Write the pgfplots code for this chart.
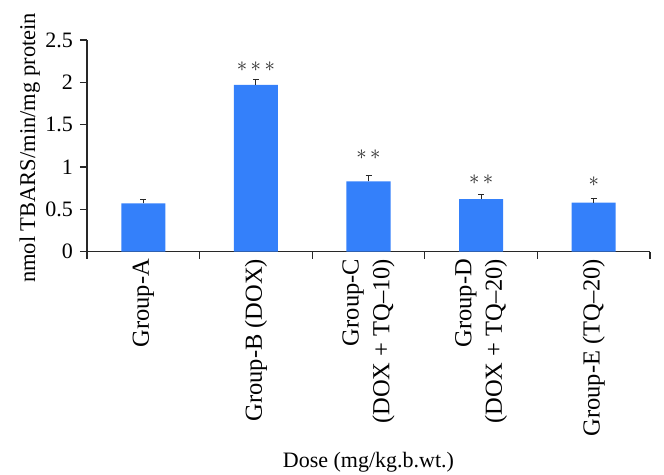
\documentclass[border=0pt]{standalone}
\usepackage{fontspec}
\setmainfont{Liberation Serif}
\usepackage{pgfplots}
\pgfplotsset{compat=1.18}
\definecolor{barblue}{RGB}{52,128,250}
\definecolor{axisgray}{RGB}{40,40,40}
\begin{document}
\begin{tikzpicture}
\useasboundingbox (-87pt,-222.3pt) rectangle (577pt,251.7pt);
\begin{axis}[
  at={(0pt,0pt)}, anchor=south west,
  width=563pt, height=211.7pt, scale only axis,
  xmin=-0.5, xmax=4.5, ymin=0, ymax=2.5,
  axis x line*=bottom, axis y line*=left,
  axis line style={axisgray, line width=1.1pt},
  xtick={0,1,2,3,4},
  xticklabels={Group-A, Group-B (DOX), {Group-C\\(DOX + TQ–10)}, {Group-D\\(DOX + TQ–20)}, Group-E (TQ–20)},
  minor xtick={-0.5,0.5,1.5,2.5,3.5,4.5},
  major x tick style={draw=none},
  minor tick length=7pt,
  major tick length=7pt,
  tick align=outside,
  tick style={axisgray, line width=1.1pt},
  ytick={0,0.5,1,1.5,2,2.5},
  yticklabels={0,0.5,1,1.5,2,2.5},
  /pgf/number format/assume math mode=true,
  yticklabel style={font=\fontsize{22}{26}\selectfont, inner sep=0pt, anchor=east, xshift=-7pt},
  xticklabel style={font=\fontsize{24.5}{30.7}\selectfont, rotate=90, anchor=east, align=right, inner sep=0pt},
  xlabel={Dose (mg/kg.b.wt.)},
  xlabel style={font=\fontsize{22}{28}\selectfont, at={(rel axis cs:0.5,0)}, anchor=base, yshift=-216pt, inner sep=0pt},
  ylabel={nmol TBARS/min/mg protein},
  ylabel style={font=\fontsize{22.5}{28}\selectfont, at={(rel axis cs:-0.092,1.129)}, anchor=base east, inner sep=0pt},
  clip=false,
]
\addplot[ybar, bar width=44pt, fill=barblue, draw=none,
  error bars/.cd, y dir=plus, y explicit,
  error bar style={line width=1.1pt, axisgray},
  error mark options={rotate=90, mark size=3pt, line width=1.1pt, axisgray}]
  coordinates {
    (0,0.57) +- (0,0.045)
    (1,1.97) +- (0,0.06)
    (2,0.83) +- (0,0.07)
    (3,0.62) +- (0,0.055)
    (4,0.58) +- (0,0.05)
  };
\node[font=\fontsize{21}{24}\selectfont, text=axisgray, inner sep=0pt] at (axis cs:1,2.19) {$\mathord{\ast}\,\mathord{\ast}\,\mathord{\ast}$};
\node[font=\fontsize{21}{24}\selectfont, text=axisgray, inner sep=0pt] at (axis cs:2,1.142) {$\mathord{\ast}\,\mathord{\ast}$};
\node[font=\fontsize{21}{24}\selectfont, text=axisgray, inner sep=0pt] at (axis cs:3,0.847) {$\mathord{\ast}\,\mathord{\ast}$};
\node[font=\fontsize{21}{24}\selectfont, text=axisgray, inner sep=0pt] at (axis cs:4,0.823) {$\mathord{\ast}$};
\end{axis}
\end{tikzpicture}
\end{document}
